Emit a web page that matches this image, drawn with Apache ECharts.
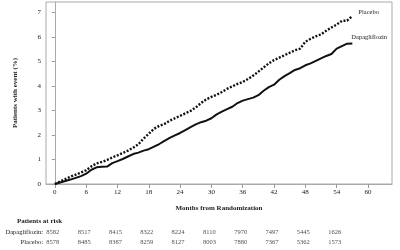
<!DOCTYPE html>
<html>
<head>
<meta charset="utf-8">
<script src="https://cdn.jsdelivr.net/npm/echarts@6/dist/echarts.min.js"></script>
<style>
  html, body { margin: 0; padding: 0; background: #fff; }
  #chart { width: 400px; height: 250px; }
</style>
</head>
<body>
<div id="chart"></div>
<script>
// KM curves (month, % with event)
const months = [0,1,2,3,4,5,6,7,8,9,10,11,12,13,14,15,16,17,18,19,20,21,22,23,24,25,26,27,28,29,
  30,31,32,33,34,35,36,37,38,39,40,41,42,43,44,45,46,47,48,49,50,51,52,53,54,55,56,57]
const dapaPct = [0,0.06,0.12,0.18,0.25,0.32,0.42,0.58,0.68,0.70,0.71,0.85,0.93,1.02,1.12,1.22,1.28,1.36,1.42,1.52,
  1.63,1.76,1.88,1.98,2.08,2.20,2.32,2.43,2.52,2.58,2.68,2.84,2.95,3.05,3.15,3.30,3.40,3.46,3.52,3.62,
  3.80,3.95,4.05,4.25,4.40,4.52,4.65,4.72,4.84,4.92,5.02,5.12,5.22,5.30,5.52,5.62,5.72,5.73]
const placeboPct = [0,0.10,0.20,0.30,0.38,0.47,0.56,0.72,0.84,0.90,0.98,1.08,1.17,1.26,1.36,1.48,1.62,1.85,2.05,2.25,
  2.37,2.45,2.58,2.68,2.78,2.88,2.98,3.12,3.30,3.45,3.55,3.64,3.75,3.88,3.98,4.08,4.16,4.28,4.42,4.58,
  4.75,4.92,5.05,5.15,5.25,5.35,5.45,5.52,5.80,5.92,6.02,6.10,6.25,6.38,6.50,6.65,6.66,6.85]

// tick labels
const xTicks = [0,6,12,18,24,30,36,42,48,54,60]
const yTicks = [0,1,2,3,4,5,6,7]

// patients at risk table
const riskMonths = [0,6,12,18,24,30,36,42,48,54]
const riskRows = ['Dapagliflozin:', 'Placebo:']
const riskDapa = [8582,8517,8415,8322,8224,8110,7970,7497,5445,1626]
const riskPlacebo = [8578,8485,8387,8259,8127,8003,7880,7367,5362,1573]

const serif = 'Liberation Serif'
const txt = '#222'

const chart = echarts.init(document.getElementById('chart'))

const riskData = (vals, row) => vals.map((v, i) => [riskMonths[i], row, v])

chart.setOption({
  animation: false,
  textStyle: {fontFamily: serif},
  title: {
    text: 'Patients at risk',
    left: 12, top: 213,
    textStyle: {fontSize: 7, fontWeight: 'bold', color: txt, fontFamily: serif}
  },
  grid: [
    {left: 46, right: 8, top: 2, height: 182, show: true, borderColor: '#aaa', borderWidth: 1},
    {left: 46, right: 8, top: 227, height: 21}
  ],
  xAxis: [
    {
      type: 'value', gridIndex: 0, min: -1.7, max: 64.6,
      name: 'Months from Randomization', nameLocation: 'middle', nameGap: 21,
      nameTextStyle: {fontSize: 7, fontWeight: 'bold', color: txt, fontFamily: serif},
      splitLine: {show: false},
      axisLine: {lineStyle: {color: '#aaa'}},
      axisTick: {customValues: xTicks, length: 4, lineStyle: {color: '#999'}},
      axisLabel: {customValues: xTicks, fontSize: 7, color: txt, margin: 5, fontFamily: serif}
    },
    {
      type: 'value', gridIndex: 1, min: -1.7, max: 64.6, show: false
    }
  ],
  yAxis: [
    {
      type: 'value', gridIndex: 0, min: 0, max: 7.42,
      name: 'Patients with event (%)', nameLocation: 'middle', nameGap: 27,
      nameTextStyle: {fontSize: 7, fontWeight: 'bold', color: txt, fontFamily: serif},
      splitLine: {show: false},
      axisLine: {show: true, lineStyle: {color: '#aaa'}},
      axisTick: {show: true, customValues: yTicks, length: 3, lineStyle: {color: '#999'}},
      axisLabel: {customValues: yTicks, fontSize: 7, color: txt, margin: 5, fontFamily: serif}
    },
    {
      type: 'category', gridIndex: 1, data: riskRows, inverse: true,
      axisLine: {show: false}, axisTick: {show: false},
      axisLabel: {fontSize: 6.5, color: txt, margin: 3, fontFamily: serif}
    }
  ],
  series: [
    {
      name: 'Placebo', type: 'line', symbol: 'none',
      data: months.map((m, i) => [m, placeboPct[i]]),
      lineStyle: {color: '#111', width: 2.4, type: [2, 1.6]},
      endLabel: {show: true, formatter: 'Placebo', fontSize: 6.5, color: txt, offset: [-2, -4], fontFamily: serif}
    },
    {
      name: 'Dapagliflozin', type: 'line', symbol: 'none',
      data: months.map((m, i) => [m, dapaPct[i]]),
      lineStyle: {color: '#111', width: 2},
      endLabel: {show: true, formatter: 'Dapagliflozin', fontSize: 6.5, color: txt, offset: [-9, -6], fontFamily: serif}
    },
    {
      type: 'scatter', xAxisIndex: 1, yAxisIndex: 1, symbolSize: 1,
      itemStyle: {color: 'rgba(0,0,0,0)'},
      data: riskData(riskDapa, riskRows[0]).concat(riskData(riskPlacebo, riskRows[1])),
      label: {show: true, position: 'inside', formatter: p => p.value[2], fontSize: 6.5, color: txt, offset: [-2, 0], fontFamily: serif}
    }
  ]
})
</script>
</body>
</html>
